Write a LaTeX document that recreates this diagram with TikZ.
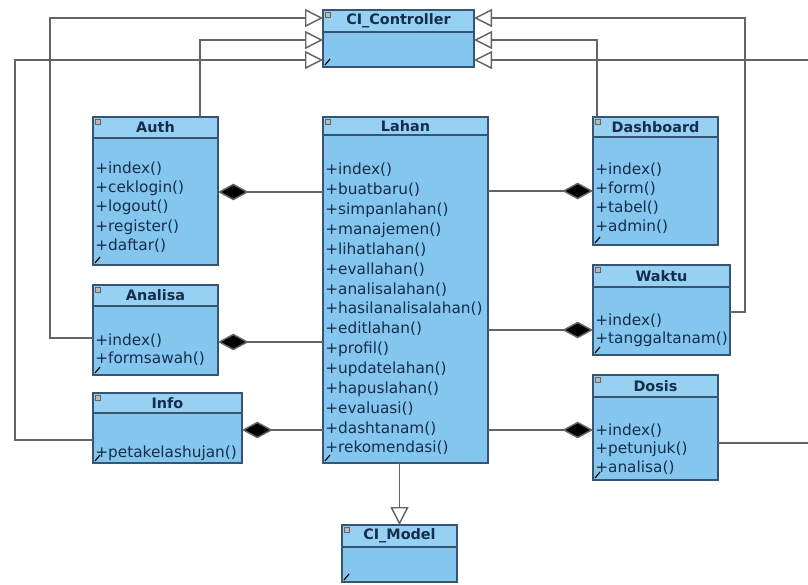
\documentclass[tikz,border=0pt]{standalone}
\usepackage{fontspec}
\setmainfont{DejaVu Sans}
\usetikzlibrary{fit,calc,arrows.meta}

\definecolor{bodyblue}{RGB}{133,198,238}
\definecolor{headblue}{RGB}{150,209,243}
\definecolor{edge}{RGB}{55,85,115}
\definecolor{ink}{RGB}{22,45,75}
\definecolor{wire}{RGB}{100,100,100}

\tikzset{
  classbody/.style={inner sep=0pt, outer sep=0pt, fill=bodyblue, draw=none},
  headfill/.style={fill=headblue},
  classline/.style={draw=edge, line width=1.1pt},
  classtitle/.style={inner sep=0pt, text=ink, font=\fontsize{10.8}{12}\selectfont\bfseries},
  classitem/.style={anchor=base west, inner sep=0pt, text=ink, font=\fontsize{11.5}{13}\selectfont},
  wireline/.style={draw=wire, line width=1.1pt},
  gen/.style={wireline, -{Triangle[open, length=13.5pt, width=13.5pt, fill=white]}},
  comp/.style={wireline, {Diamond[length=23pt, width=12.5pt, fill=black]}-},
}

% one UML class: name, x1, y1, x2, y2, bottom of header, title
\newcommand\umlclass[7]{%
  \coordinate (#1-a) at (#2,#3);
  \coordinate (#1-b) at (#4,#5);
  \node[classbody, fit=(#1-a)(#1-b)] (#1) {};
  \fill[headfill] (#2,#3) rectangle (#4,#6);
  \draw[classline] (#2,#6) -- (#4,#6);
  \draw[classline] (#2,#3) rectangle (#4,#5);
  \node[classtitle] at ($(#2,#3)!0.5!(#4,#6)$) {#7};
  \fill[gray!55, draw=gray!80!black, line width=0.3pt] (#2+2,#3+2) rectangle ++(5,5);
  \draw[black, line width=0.9pt] (#2+2,#5-2) -- ++(5,-6);
}

% operations of a class: x, first baseline, line step, list
\newcommand\umlops[4]{%
  \foreach \t [count=\i from 0] in {#4}
    \node[classitem] at (#1, #2+\i*#3) {\t};
}

\begin{document}
\begin{tikzpicture}[x=0.75pt, y=-0.75pt]
  \useasboundingbox (0,0) rectangle (808,585);
  \clip (0,0) rectangle (808,585);
  \fill[white] (0,0) rectangle (808,585);

  % classes
  \umlclass{ctrl}{323}{10}{474}{67}{32}{CI\_Controller}
  \umlclass{auth}{93}{117}{218}{265}{138}{Auth}
  \umlclass{lahan}{323}{117}{488}{463}{135}{Lahan}
  \umlclass{dash}{593}{117}{718}{245}{137}{Dashboard}
  \umlclass{analisa}{93}{285}{218}{375}{306}{Analisa}
  \umlclass{waktu}{593}{265}{730}{355}{287}{Waktu}
  \umlclass{info}{93}{393}{242}{463}{413}{Info}
  \umlclass{dosis}{593}{375}{718}{480}{397}{Dosis}
  \umlclass{model}{342}{525}{457}{582}{547}{CI\_Model}

  % operations
  \umlops{95}{174}{19}{+index(),+ceklogin(),+logout(),+register(),+daftar()}
  \umlops{325}{175}{19.85}{+index(),+buatbaru(),+simpanlahan(),+manajemen(),+lihatlahan(),+evallahan(),+analisalahan(),+hasilanalisalahan(),+editlahan(),+profil(),+updatelahan(),+hapuslahan(),+evaluasi(),+dashtanam(),+rekomendasi()}
  \umlops{595}{175}{19}{+index(),+form(),+tabel(),+admin()}
  \umlops{95}{345}{18}{+index(),+formsawah()}
  \umlops{595}{325}{18}{+index(),+tanggaltanam()}
  \umlops{95}{457}{18}{+petakelashujan()}
  \umlops{595}{435}{18.5}{+index(),+petunjuk(),+analisa()}

  % composition with Lahan
  \draw[comp] (auth.east |- 0,192) -- (lahan.west |- 0,192);
  \draw[comp] (analisa.east |- 0,342) -- (lahan.west |- 0,342);
  \draw[comp] (info.east |- 0,430) -- (lahan.west |- 0,430);
  \draw[comp] (dash.west |- 0,191) -- (lahan.east |- 0,191);
  \draw[comp] (waktu.west |- 0,330) -- (lahan.east |- 0,330);
  \draw[comp] (dosis.west |- 0,430) -- (lahan.east |- 0,430);

  % inheritance from CI_Controller
  \draw[gen] (auth.north -| 200,0) |- (ctrl.west |- 0,40);
  \draw[gen] (analisa.west |- 0,338) -- (50,338) |- (ctrl.west |- 0,18);
  \draw[gen] (info.west |- 0,440) -- (15,440) |- (ctrl.west |- 0,60);
  \draw[gen] (dash.north -| 597,0) |- (ctrl.east |- 0,40);
  \draw[gen] (waktu.east |- 0,312) -- (745,312) |- (ctrl.east |- 0,18);
  \draw[gen] (dosis.east |- 0,443) -- (812,443) |- (ctrl.east |- 0,60);

  % Lahan uses CI_Model
  \draw[gen] (lahan.south -| model.north) -- (model.north);
\end{tikzpicture}
\end{document}
